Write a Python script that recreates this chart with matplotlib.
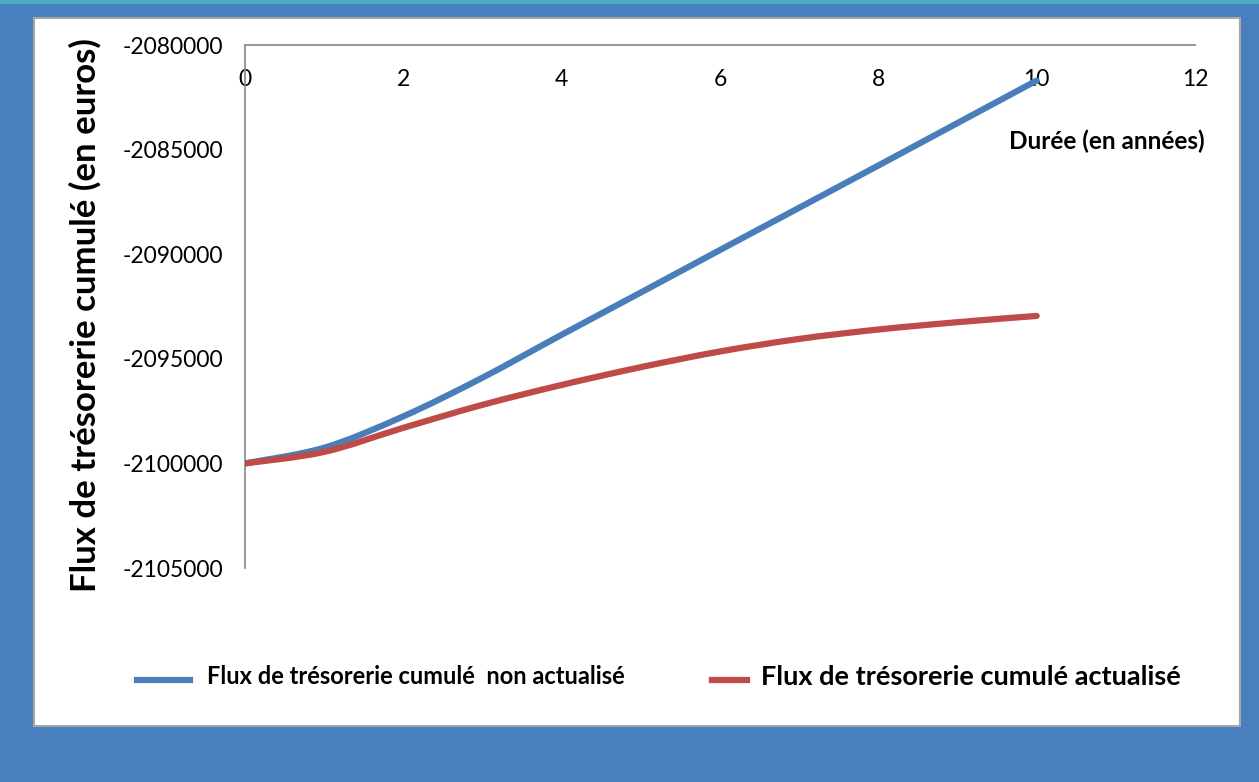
import numpy as np
import matplotlib.pyplot as plt
from matplotlib.path import Path
from matplotlib.patches import PathPatch, Rectangle
from matplotlib.lines import Line2D

plt.rcParams['font.family'] = ['Lato', 'DejaVu Sans']

# Cumulative cash flow per year
annees = [0, 1, 2, 3, 4, 5, 6, 7, 8, 9, 10]
non_actualise = [-2100000, -2099250, -2097750, -2095900, -2093850, -2091830,
                 -2089800, -2087780, -2085760, -2083730, -2081700]
actualise = [-2100000, -2099450, -2098300, -2097200, -2096250, -2095400,
             -2094650, -2094050, -2093600, -2093250, -2092950]

y_ticks = [-2105000, -2100000, -2095000, -2090000, -2085000, -2080000]
x_ticks = [0, 2, 4, 6, 8, 10, 12]

label_bleu = 'Flux de trésorerie cumulé  non actualisé'
label_rouge = 'Flux de trésorerie cumulé actualisé'

bleu = '#4A7EBB'
rouge = '#BE4B48'
fond = '#4A7FBF'


def smooth_path(x, y):
    # Catmull-Rom segments turned into cubic Bezier pieces (like Excel smoothed lines)
    x = np.asarray(x, float)
    y = np.asarray(y, float)
    verts = [(x[0], y[0])]
    codes = [Path.MOVETO]
    n = len(x)
    for i in range(n - 1):
        x0, y0 = (x[i - 1], y[i - 1]) if i > 0 else (x[i], y[i])
        x3, y3 = (x[i + 2], y[i + 2]) if i + 2 < n else (x[i + 1], y[i + 1])
        c1 = (x[i] + (x[i + 1] - x0) / 6, y[i] + (y[i + 1] - y0) / 6)
        c2 = (x[i + 1] - (x3 - x[i]) / 6, y[i + 1] - (y3 - y[i]) / 6)
        verts += [c1, c2, (x[i + 1], y[i + 1])]
        codes += [Path.CURVE4] * 3
    return Path(verts, codes)


fig = plt.figure(figsize=(12.59, 7.82), dpi=100)
fig.patch.set_facecolor(fond)

# white chart panel and top strip
fig.add_artist(Rectangle((34 / 1259, 1 - 726 / 782), 1206 / 1259, 708 / 782,
                         transform=fig.transFigure, facecolor='white',
                         edgecolor='#A6A6A6', linewidth=1.5, zorder=0))
fig.add_artist(Rectangle((0, 1 - 4 / 782), 1, 4 / 782, transform=fig.transFigure,
                         facecolor='#4BACC6', edgecolor='none', zorder=0))

ax = fig.add_axes([245 / 1259, 1 - 568 / 782, 950 / 1259, 523 / 782])
ax.set_facecolor('none')
ax.set_xlim(0, 12)
ax.set_ylim(-2105000, -2080000)

for serie, couleur in [(non_actualise, bleu), (actualise, rouge)]:
    ax.add_patch(PathPatch(smooth_path(annees, serie), facecolor='none',
                           edgecolor=couleur, linewidth=4.5, capstyle='round',
                           zorder=3))

ax.spines['top'].set_visible(False)
ax.spines['right'].set_visible(False)
ax.spines['bottom'].set_position(('data', -2080000))
ax.spines['bottom'].set_color('#868686')
ax.spines['left'].set_color('#868686')
ax.spines['bottom'].set_linewidth(1.2)
ax.spines['left'].set_linewidth(1.2)

ax.set_xticks(x_ticks)
ax.set_yticks(y_ticks)
ax.set_yticklabels([str(v) for v in y_ticks])
ax.tick_params(axis='both', length=0, labelsize=16.5, colors='black')
ax.tick_params(axis='x', pad=17)
ax.tick_params(axis='y', pad=16)

fig.text(85 / 1259, 1 - 315 / 782, 'Flux de trésorerie cumulé (en euros)',
         rotation=90, ha='center', va='center', fontsize=25, fontweight='bold')
fig.text(1205 / 1259, 1 - 141 / 782, 'Durée (en années)', ha='right',
         va='center', fontsize=17.5, fontweight='bold')

# legend
fig.add_artist(Line2D([137 / 1259, 190 / 1259], [1 - 680 / 782] * 2,
                      transform=fig.transFigure, color=bleu, linewidth=4.5))
fig.text(207 / 1259, 1 - 677 / 782, label_bleu, ha='left', va='center',
         fontsize=17, fontweight='bold')
fig.add_artist(Line2D([712 / 1259, 747 / 1259], [1 - 680 / 782] * 2,
                      transform=fig.transFigure, color=rouge, linewidth=4.5))
fig.text(761 / 1259, 1 - 677 / 782, label_rouge, ha='left', va='center',
         fontsize=19.5, fontweight='bold')

fig.savefig('out.png', dpi=100, facecolor=fig.get_facecolor())
